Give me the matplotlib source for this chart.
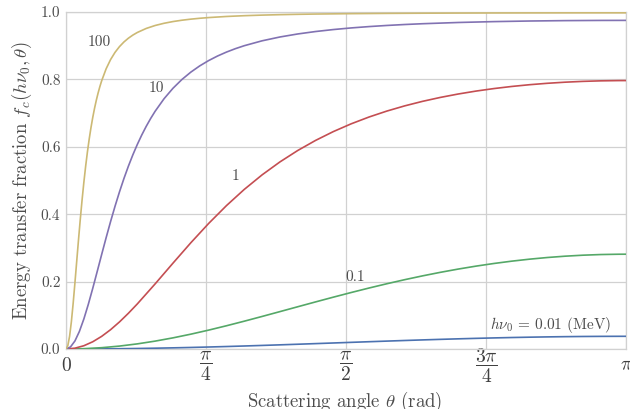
import numpy as np
import matplotlib
matplotlib.use("Agg")
import matplotlib.pyplot as plt

plt.rcParams['font.family'] = 'serif'
plt.rcParams['font.serif'] = ['cmr10', 'DejaVu Serif']
plt.rcParams['mathtext.fontset'] = 'cm'
plt.rcParams['axes.formatter.use_mathtext'] = True

# scattering angle samples (rad): coarse grid for the gentle curves
theta = [0.0, 0.1, 0.2, 0.3, 0.4, 0.5, 0.6, 0.7, 0.8, 0.9, 1.0, 1.1, 1.2,
         1.3, 1.4, 1.5, 1.6, 1.7, 1.8, 1.9, 2.0, 2.1, 2.2, 2.3, 2.4, 2.5,
         2.6, 2.7, 2.8, 2.9, 3.0, 3.1, np.pi]

# 1 MeV curve gets a few extra points near zero
theta_1 = [0.0, 0.05, 0.1, 0.15, 0.2, 0.25, 0.3, 0.35, 0.4, 0.5, 0.6, 0.7,
           0.8, 0.9, 1.0, 1.1, 1.2, 1.3, 1.4, 1.5, 1.6, 1.7, 1.8, 1.9, 2.0,
           2.1, 2.2, 2.3, 2.4, 2.5, 2.6, 2.7, 2.8, 2.9, 3.0, 3.1, np.pi]

# finer grid for the 10 MeV curve
theta_10 = [0.0, 0.025, 0.05, 0.075, 0.1, 0.125, 0.15, 0.175, 0.2, 0.225,
            0.25, 0.275, 0.3, 0.325, 0.35, 0.375, 0.4, 0.425, 0.45, 0.475,
            0.5, 0.55, 0.6, 0.65, 0.7, 0.75, 0.8, 0.85, 0.9, 0.95, 1.0,
            1.1, 1.2, 1.3, 1.4, 1.5, 1.6, 1.7, 1.8, 1.9, 2.0, 2.2, 2.4,
            2.6, 2.8, 3.0, np.pi]

# finest grid for the 100 MeV curve
theta_100 = [0.0, 0.01, 0.02, 0.03, 0.04, 0.05, 0.06, 0.07, 0.08, 0.09,
             0.1, 0.11, 0.12, 0.13, 0.14, 0.15, 0.16, 0.17, 0.18, 0.19,
             0.2, 0.225, 0.25, 0.275, 0.3, 0.325, 0.35, 0.375, 0.4, 0.45,
             0.5, 0.55, 0.6, 0.65, 0.7, 0.75, 0.8, 0.9, 1.0, 1.1, 1.2,
             1.3, 1.4, 1.6, 1.8, 2.0, 2.2, 2.4, 2.6, 2.8, 3.0, np.pi]

# energy transfer fraction for each photon energy (MeV)
f_001 = [0.0, 0.0001, 0.00039, 0.00087, 0.00154, 0.00239, 0.00341, 0.00458,
         0.00590, 0.00735, 0.00892, 0.01058, 0.01232, 0.01413, 0.01598,
         0.01786, 0.01974, 0.02161, 0.02345, 0.02524, 0.02697, 0.02861,
         0.03015, 0.03158, 0.03288, 0.03405, 0.03506, 0.03592, 0.03662,
         0.03714, 0.03748, 0.03765, 0.03767]
f_01 = [0.0, 0.00098, 0.00389, 0.00867, 0.01521, 0.02340, 0.03305, 0.04399,
        0.05603, 0.06894, 0.08254, 0.09660, 0.11094, 0.12537, 0.13974,
        0.15387, 0.16764, 0.18094, 0.19365, 0.20569, 0.21699, 0.22750,
        0.23715, 0.24590, 0.25373, 0.26061, 0.26653, 0.27146, 0.27541,
        0.27835, 0.28028, 0.28120, 0.28129]
f_1 = [0.0, 0.00244, 0.00968, 0.02150, 0.03754, 0.05735, 0.08038, 0.10606,
       0.13381, 0.19327, 0.25474, 0.31516, 0.37246, 0.42545, 0.47357,
       0.51674, 0.55512, 0.58906, 0.61895, 0.64520, 0.66823, 0.68839,
       0.70602, 0.72142, 0.73485, 0.74651, 0.75661, 0.76530, 0.77273,
       0.77899, 0.78420, 0.78841, 0.79170, 0.79411, 0.79568, 0.79643,
       0.79650]
f_10 = [0.0, 0.00608, 0.02387, 0.05214, 0.08906, 0.13246, 0.18016, 0.23011,
        0.28062, 0.33033, 0.37825, 0.42374, 0.46639, 0.50604, 0.54262,
        0.57626, 0.60704, 0.63516, 0.66081, 0.68419, 0.70550, 0.74267,
        0.77366, 0.79962, 0.82149, 0.84002, 0.85581, 0.86935, 0.88102,
        0.89114, 0.89996, 0.91448, 0.92581, 0.93479, 0.94201, 0.94788,
        0.95270, 0.95669, 0.96002, 0.96282, 0.96517, 0.96883, 0.97143,
        0.97322, 0.97436, 0.97496, 0.97509]
f_100 = [0.0, 0.00969, 0.03766, 0.08093, 0.13535, 0.19652, 0.26044, 0.32399,
         0.38495, 0.44197, 0.49435, 0.54186, 0.58460, 0.62283, 0.65691,
         0.68725, 0.71425, 0.73829, 0.75971, 0.77884, 0.79596, 0.83144,
         0.85883, 0.88029, 0.89734, 0.91107, 0.92227, 0.93150, 0.93920,
         0.95118, 0.95993, 0.96651, 0.97158, 0.97555, 0.97873, 0.98131,
         0.98343, 0.98668, 0.98901, 0.99073, 0.99205, 0.99307, 0.99388,
         0.99506, 0.99585, 0.99640, 0.99679, 0.99707, 0.99726, 0.99738,
         0.99744, 0.99745]

curves = [(theta, f_001), (theta, f_01), (theta_1, f_1), (theta_10, f_10), (theta_100, f_100)]
colors = ['#4C72B0', '#55A868', '#C44E52', '#8172B2', '#CCB974']
labels = [r'$h\nu_0\,=\,0.01$ (MeV)', '0.1', '1', '10', '100']
label_pos = [(2.72, 0.071), (1.62, 0.214), (0.95, 0.513), (0.505, 0.775), (0.185, 0.911)]

fig = plt.figure(figsize=(6.3, 4.09), dpi=100)
ax = fig.add_axes([0.1048, 0.1467, 0.8889, 0.8240])

for (x, y), c in zip(curves, colors):
    ax.plot(x, y, color=c, lw=1.2, zorder=3)

for txt, (tx, ty) in zip(labels, label_pos):
    ax.text(tx, ty, txt, fontsize=11, color='0.3', ha='center', va='center')

ax.set_xlim(0, np.pi)
ax.set_ylim(0, 1)
ax.set_xticks([0, np.pi / 4, np.pi / 2, 3 * np.pi / 4, np.pi])
ax.set_xticklabels([r'$0$', r'$\dfrac{\pi}{4}$', r'$\dfrac{\pi}{2}$',
                    r'$\dfrac{3\pi}{4}$', r'$\pi$'], fontsize=14, color='0.25')
for lab in ax.get_xticklabels():
    lab.set_va('center')
ax.set_yticks([0, 0.2, 0.4, 0.6, 0.8, 1.0])
ax.set_yticklabels(['0.0', '0.2', '0.4', '0.6', '0.8', '1.0'], fontsize=11, color='0.3')
ax.tick_params(axis='y', length=0, pad=4)
ax.tick_params(axis='x', length=0, pad=12)

ax.grid(True, color='0.82', lw=0.9)
ax.set_axisbelow(True)
for s in ax.spines.values():
    s.set_color('0.82')
    s.set_linewidth(0.9)

ax.set_xlabel(r'Scattering angle $\theta$ (rad)', fontsize=13.5, color='0.3')
ax.xaxis.set_label_coords(0.498, -0.12)
ax.set_ylabel(r'Energy transfer fraction $f_c(h\nu_0, \theta)$', fontsize=13.5, color='0.3', labelpad=5)

fig.savefig('out.png', dpi=100)
